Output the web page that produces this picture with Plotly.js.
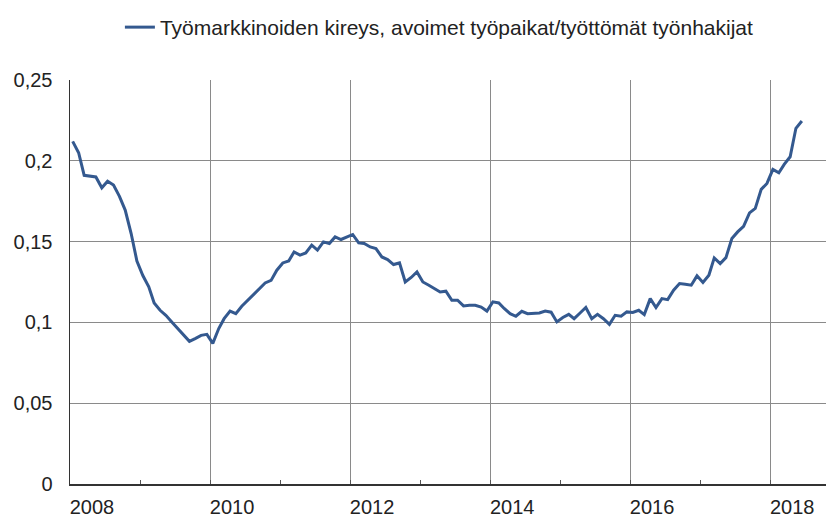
<!DOCTYPE html>
<html>
<head>
<meta charset="utf-8">
<script src="https://cdn.plot.ly/plotly-3.0.1.min.js"></script>
<style>html,body{margin:0;padding:0;background:#fff;}#chart{width:826px;height:518px;}</style>
</head>
<body>
<div id="chart"></div>
<script>
// Monthly values, Jan 2008 .. Jun 2018
const startYear = 2008;
const seriesName = "Työmarkkinoiden kireys, avoimet työpaikat/työttömät työnhakijat";
const values = [
  // 2008
  0.212, 0.205, 0.191, 0.1905, 0.190, 0.1833, 0.1874, 0.185, 0.178, 0.1695, 0.155, 0.138,
  // 2009
  0.129, 0.122, 0.112, 0.1075, 0.1044, 0.1003, 0.0965, 0.0925, 0.0883, 0.090, 0.092, 0.0926,
  // 2010
  0.0870, 0.0962, 0.1023, 0.107, 0.1054, 0.110, 0.1137, 0.1174, 0.121, 0.1244, 0.126, 0.1323,
  // 2011
  0.1368, 0.138, 0.1436, 0.1416, 0.143, 0.1478, 0.1447, 0.1498, 0.1488, 0.1529, 0.1513, 0.1529,
  // 2012
  0.1544, 0.1492, 0.1488, 0.1467, 0.1457, 0.1405, 0.1389, 0.1358, 0.1368, 0.125, 0.1278, 0.1312,
  // 2013
  0.125, 0.123, 0.121, 0.1188, 0.1193, 0.1137, 0.1137, 0.1102, 0.1106, 0.1106, 0.1095, 0.107,
  // 2014
  0.1127, 0.112, 0.1086, 0.1054, 0.1038, 0.1069, 0.1054, 0.1058, 0.1058, 0.107, 0.1063, 0.1003,
  // 2015
  0.103, 0.105, 0.1023, 0.1058, 0.1092, 0.1023, 0.105, 0.1023, 0.0988, 0.1044, 0.1038, 0.1065,
  // 2016
  0.1062, 0.1075, 0.1048, 0.1147, 0.1092, 0.1147, 0.1141, 0.1199, 0.124, 0.1236, 0.123, 0.1288,
  // 2017
  0.1247, 0.1292, 0.1399, 0.1364, 0.1401, 0.1519, 0.156, 0.1595, 0.1678, 0.1705, 0.1823, 0.186,
  // 2018
  0.1947, 0.1926, 0.1978, 0.2025, 0.2201, 0.2246
];
const xTickYears = [2008, 2010, 2012, 2014, 2016, 2018];
const xTickText = ["2008", "2010", "2012", "2014", "2016", "2018"];
const yTickVals = [0, 0.05, 0.1, 0.15, 0.2, 0.25];
const yTickText = ["0", "0,05", "0,1", "0,15", "0,2", "0,25"];

function pad(n){ return (n < 10 ? "0" : "") + n; }
const dates = values.map((v, i) => {
  const y = startYear + Math.floor(i / 12);
  const m = (i % 12) + 1;
  return y + "-" + pad(m) + "-15";
});

const font = {family: "Liberation Sans, Arial, sans-serif", size: 20, color: "#222"};

const trace = {
  x: dates, y: values, type: "scatter", mode: "lines", name: seriesName,
  line: {color: "#34598f", width: 3}
};

const layout = {
  width: 826, height: 518,
  margin: {l: 70, r: 0, t: 80, b: 34, pad: 0},
  paper_bgcolor: "#fff", plot_bgcolor: "#fff",
  font: font,
  showlegend: true,
  legend: {
    orientation: "h", x: 0.066, xanchor: "left", y: 1.13, yanchor: "middle",
    font: {family: font.family, size: 21, color: "#222"},
    bgcolor: "rgba(0,0,0,0)"
  },
  xaxis: {
    type: "date",
    range: ["2008-01-01", "2018-10-19"],
    tickvals: xTickYears.map(y => y + "-01-01"),
    ticktext: xTickText,
    ticks: "inside", ticklen: 4, tickcolor: "#555",
    ticklabelshift: 22, ticklabelstandoff: 4,
    showgrid: true, gridcolor: "#8a8a8a", gridwidth: 1,
    minor: {dtick: "M12", tick0: "2009-01-01", ticks: "inside", ticklen: 4, tickcolor: "#555", showgrid: false},
    showline: true, linecolor: "#333", linewidth: 1.5,
    zeroline: false, fixedrange: true
  },
  yaxis: {
    range: [0, 0.25],
    tickvals: yTickVals, ticktext: yTickText,
    ticks: "", ticklabelstandoff: 12,
    showgrid: true, gridcolor: "#8a8a8a", gridwidth: 1,
    showline: true, linecolor: "#333", linewidth: 1.5,
    zeroline: false, fixedrange: true
  }
};

Plotly.newPlot("chart", [trace], layout, {staticPlot: true, displayModeBar: false});
</script>
</body>
</html>
